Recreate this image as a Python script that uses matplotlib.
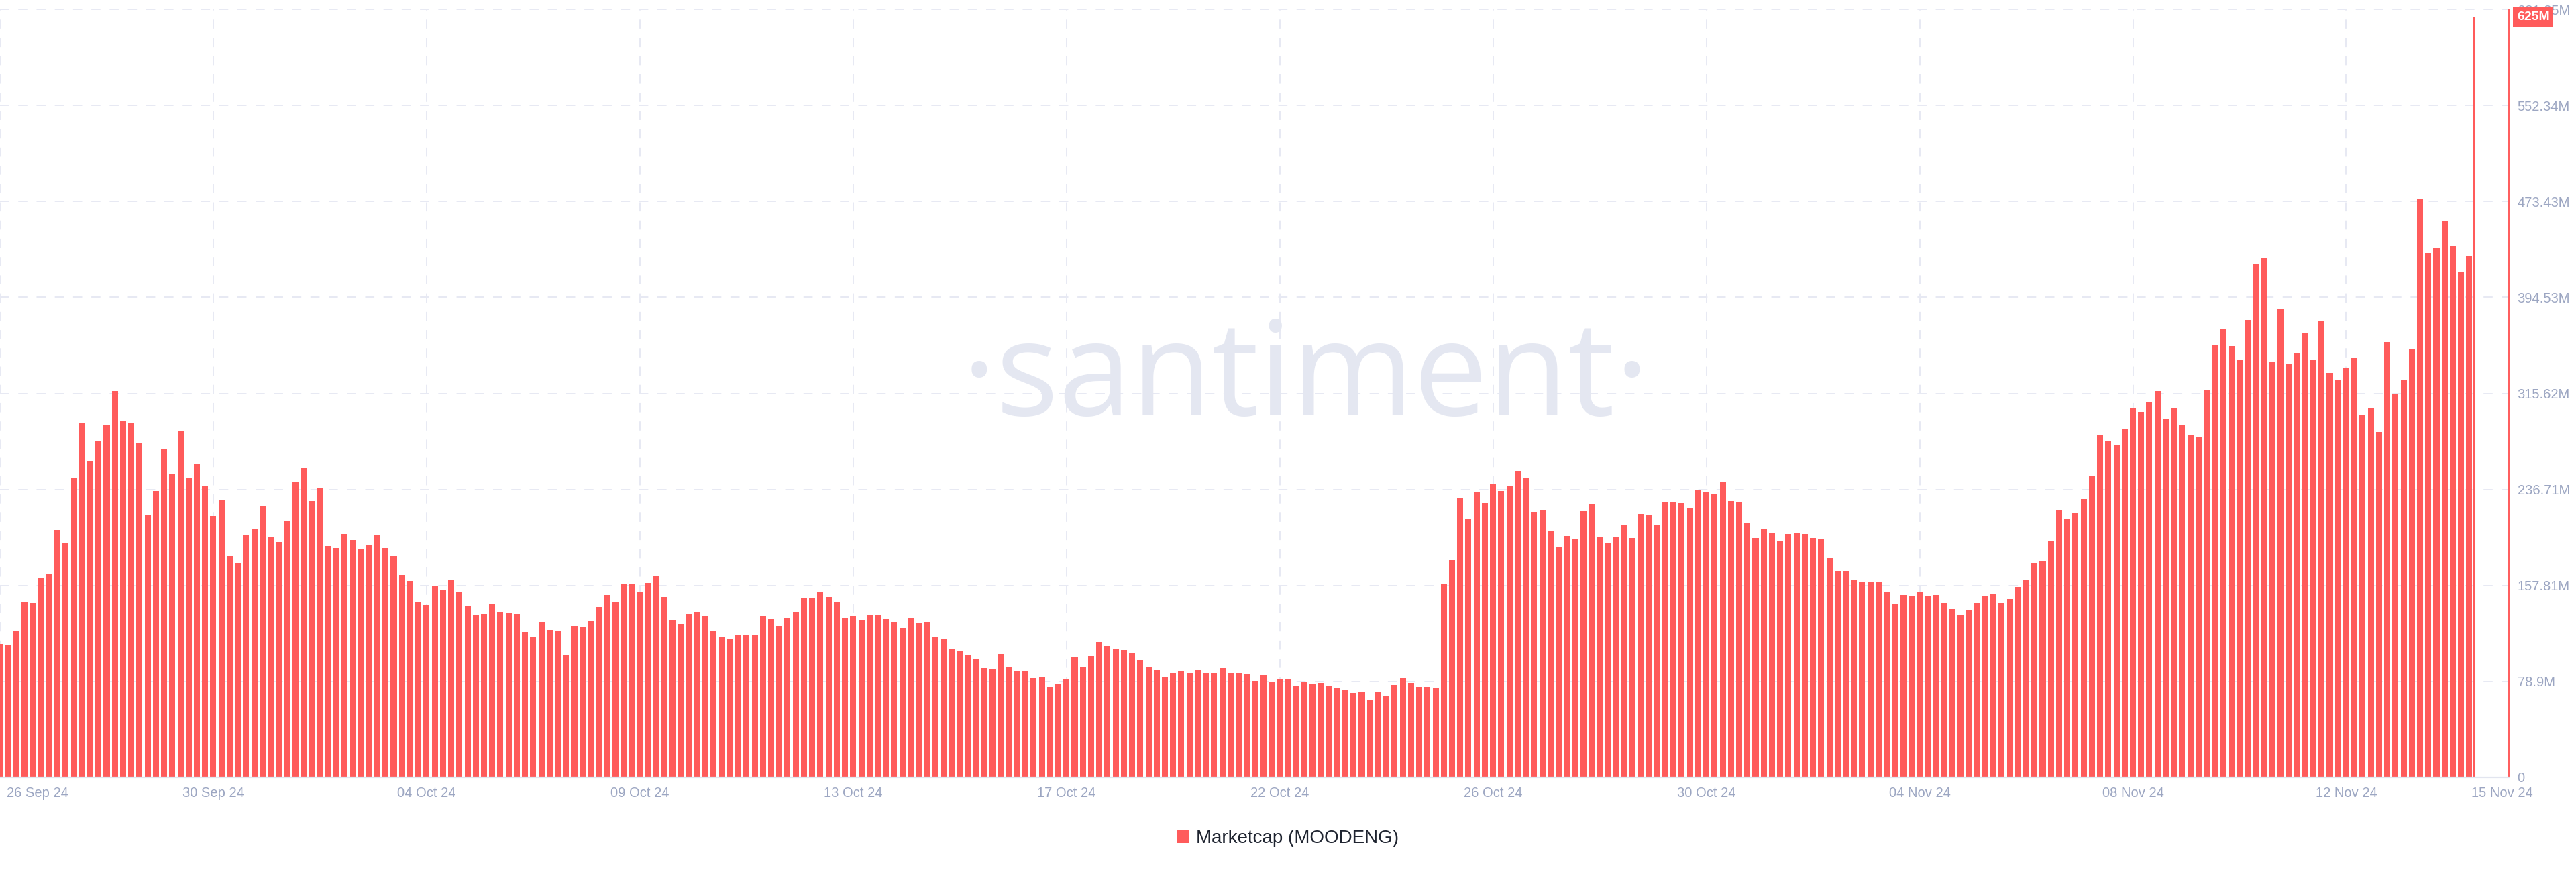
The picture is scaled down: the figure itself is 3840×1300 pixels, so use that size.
import pandas as pd
import matplotlib
matplotlib.use("Agg")
import matplotlib.pyplot as plt
from matplotlib.transforms import ScaledTranslation, blended_transform_factory

# 4-hourly market cap of MOODENG, in millions of USD
marketcap_m = [
    109.5, 108.6, 120.5, 143.7, 143.2, 164.5, 167.6, 203.5, 192.7, 246.0,
    291.0, 259.7, 276.4, 289.8, 317.3, 293.1, 291.7, 274.5, 215.4, 235.3,
    269.9, 249.6, 284.8, 245.8, 258.2, 239.1, 215.0, 227.6, 182.0, 175.7,
    199.2, 204.0, 223.1, 197.7, 193.7, 211.1, 243.2, 253.9, 226.9, 238.1,
    190.3, 188.6, 200.1, 194.9, 187.5, 190.8, 198.9, 188.6, 182.0, 166.7,
    161.6, 144.4, 141.8, 156.9, 154.5, 162.6, 152.8, 140.4, 133.4, 134.4,
    142.0, 135.8, 135.1, 134.6, 119.6, 116.0, 127.4, 121.5, 120.0, 101.1,
    124.5, 123.7, 128.2, 139.8, 150.0, 143.7, 158.8, 159.0, 152.7, 160.0,
    165.2, 148.2, 129.6, 126.3, 134.5, 135.7, 133.1, 120.4, 115.1, 114.3,
    117.3, 116.7, 116.7, 132.9, 130.2, 124.7, 131.4, 136.3, 147.6, 147.6,
    152.9, 148.2, 144.1, 131.0, 132.3, 129.3, 133.3, 133.3, 130.2, 127.3,
    122.8, 130.9, 126.7, 127.1, 115.7, 113.8, 105.4, 103.4, 100.4, 96.9,
    89.7, 89.2, 101.3, 90.7, 87.4, 87.4, 81.5, 82.0, 74.3, 77.4,
    80.4, 98.9, 91.0, 99.9, 111.1, 108.0, 105.6, 104.5, 102.1, 96.5,
    91.0, 88.1, 82.6, 86.1, 87.0, 85.3, 88.3, 85.3, 85.3, 89.7,
    86.1, 85.5, 84.8, 79.4, 84.4, 78.9, 81.1, 80.7, 75.4, 78.3,
    76.7, 77.6, 75.0, 73.9, 72.3, 69.3, 69.9, 63.8, 69.9, 66.9,
    76.1, 81.5, 77.8, 74.6, 74.6, 73.6, 159.6, 178.9, 230.0, 212.0,
    234.7, 225.7, 241.0, 235.5, 240.0, 252.2, 246.3, 217.7, 219.5, 203.0,
    189.9, 198.3, 196.2, 219.1, 224.8, 197.2, 193.2, 197.5, 207.1, 196.8,
    216.5, 215.8, 207.9, 226.7, 226.7, 225.5, 221.4, 236.3, 235.1, 232.4,
    243.0, 226.9, 225.9, 208.9, 196.6, 203.8, 201.1, 194.8, 200.1, 201.3,
    199.9, 196.8, 196.2, 180.5, 169.0, 169.4, 162.3, 160.7, 160.7, 160.7,
    152.7, 142.3, 149.8, 149.2, 152.5, 149.2, 150.0, 143.1, 138.2, 133.3,
    137.4, 143.4, 149.4, 151.0, 143.6, 146.7, 156.6, 162.1, 176.0, 177.6,
    194.3, 219.4, 212.6, 217.2, 228.6, 248.1, 281.9, 276.0, 273.2, 286.5,
    303.8, 300.7, 308.8, 317.8, 294.9, 303.5, 289.9, 281.6, 280.3, 318.1,
    355.5, 368.5, 354.3, 343.7, 375.9, 421.5, 427.5, 341.6, 385.6, 339.6,
    348.3, 365.7, 343.3, 375.6, 332.5, 326.7, 336.7, 344.5, 298.1, 303.9,
    284.0, 357.8, 315.5, 326.3, 352.0, 476.0, 431.2, 435.3, 457.7, 436.6,
    415.8, 429.1, 625.0,
]
# closed 4h candles, then the still-open last one
bar_times = list(pd.date_range("2024-09-26 00:00", periods=302, freq="4h"))
bar_times.append(pd.Timestamp("2024-11-15 06:20"))

x_start = pd.Timestamp("2024-09-26 00:00")
x_end = pd.Timestamp("2024-11-15 23:20")
x_tick_times = [x_start + pd.Timedelta(hours=104 * k) for k in range(12)] + [x_end]
x_tick_labels = ["26 Sep 24", "30 Sep 24", "04 Oct 24", "09 Oct 24", "13 Oct 24",
                 "17 Oct 24", "22 Oct 24", "26 Oct 24", "30 Oct 24", "04 Nov 24",
                 "08 Nov 24", "12 Nov 24", "15 Nov 24"]

y_max_m = 631.25
y_tick_labels = ["0", "78.9M", "157.81M", "236.71M", "315.62M", "394.53M",
                 "473.43M", "552.34M", "631.25M"]
last_value_label = "625M"

RED = "#FF5B5B"
TICK_COLOR = "#9CA6C2"
GRID_COLOR = "#E7E9F3"

plt.rcParams["font.family"] = ["Liberation Sans", "DejaVu Sans"]

fig = plt.figure(figsize=(38.4, 13), dpi=100)
ax = fig.add_axes([0, 141 / 1300, 3740 / 3840, 1145 / 1300])

# faint watermark behind everything
fig.text(0.507, 0.563, "\u00b7santiment\u00b7", fontsize=141, family="Open Sans",
         color="#E4E7F1", ha="center", va="center", zorder=0)
ax.patch.set_alpha(0)

values = [v * 1e6 for v in marketcap_m]
widths = [0.74 * 4 / 24] * (len(values) - 1) + [0.064]
ax.bar(bar_times, values, width=widths, color=RED, linewidth=0,
       label="Marketcap (MOODENG)", zorder=2)

ax.set_xlim(x_start, x_end)
ax.set_ylim(0, y_max_m * 1e6)

ax.set_xticks(x_tick_times)
ax.set_xticklabels(x_tick_labels)
ax.set_yticks([y_max_m * 1e6 * k / 8 for k in range(9)])
ax.set_yticklabels(y_tick_labels)
ax.yaxis.tick_right()
ax.tick_params(axis="both", length=0, labelsize=14.5, labelcolor=TICK_COLOR)
ax.tick_params(axis="x", pad=10)
ax.tick_params(axis="y", pad=9)

# keep the edge labels inside the canvas
xlabels = ax.get_xticklabels()
xlabels[0].set_horizontalalignment("left")
xlabels[0].set_transform(xlabels[0].get_transform()
                         + ScaledTranslation(10 / 100, 0, fig.dpi_scale_trans))
xlabels[-1].set_transform(xlabels[-1].get_transform()
                          + ScaledTranslation(-10 / 100, 0, fig.dpi_scale_trans))

ax.set_axisbelow(True)
ax.grid(True, color=GRID_COLOR, linewidth=1.4, linestyle=(0, (7, 7)))

for side in ("left", "top"):
    ax.spines[side].set_visible(False)
ax.spines["bottom"].set_color("#E2E5EF")
ax.spines["bottom"].set_linewidth(1.6)
ax.spines["right"].set_color(RED)
ax.spines["right"].set_linewidth(1.4)

# current value badge on the price axis
badge_tr = blended_transform_factory(ax.transAxes, ax.transData) + \
    ScaledTranslation(12 / 100, 0, fig.dpi_scale_trans)
ax.text(1.0, values[-1], last_value_label, transform=badge_tr, ha="left", va="center",
        color="white", fontsize=14, fontweight="bold", clip_on=False, zorder=6,
        bbox=dict(boxstyle="square,pad=0.3", fc=RED, ec="none"))

leg = fig.legend(loc="center", bbox_to_anchor=(0.5, 50 / 1300), frameon=False,
                 fontsize=20, handlelength=0.65, handleheight=0.65,
                 handletextpad=0.35)
for t in leg.get_texts():
    t.set_color("#1F2430")

fig.savefig("out.png", dpi=100)
